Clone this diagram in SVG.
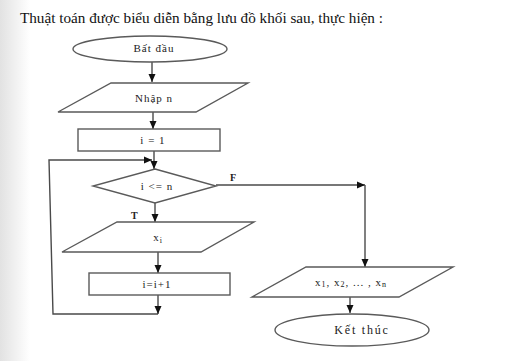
<svg xmlns="http://www.w3.org/2000/svg" width="506" height="361" viewBox="0 0 506 361">
<defs>
<linearGradient id="bg" x1="0" y1="0" x2="1" y2="0">
<stop offset="0" stop-color="#e2e2e2"/>
<stop offset="1" stop-color="#ffffff"/>
</linearGradient>
<marker id="arr" markerUnits="userSpaceOnUse" markerWidth="8" markerHeight="8" viewBox="0 0 8 8" refX="8" refY="4" orient="auto">
<path d="M0,0.5 L8,4 L0,7.5 Z" fill="#111"/>
</marker>
</defs>
<style>
.shape{fill:#fff;stroke:#5a5a5a;stroke-width:1.4}
.line{fill:none;stroke:#4a4a4a;stroke-width:1.4}
.lbl{font-family:"Liberation Serif","Times New Roman",serif;font-size:11px;fill:#222;text-anchor:middle;letter-spacing:1px}
.title{font-family:"Liberation Serif","Times New Roman",serif;font-size:15.2px;fill:#111}
.yn{font-family:"Liberation Serif","Times New Roman",serif;font-size:10px;font-weight:bold;fill:#222}
</style>
<rect x="0" y="0" width="506" height="361" fill="#fff"/>
<rect x="0" y="0" width="30" height="361" fill="url(#bg)"/>
<text class="title" x="20" y="23">Thuật toán được biểu diễn bằng lưu đồ khối sau, thực hiện :</text>

<g id="connectors">
<line class="line" x1="152" y1="62" x2="152" y2="82" marker-end="url(#arr)"/>
<line class="line" x1="153" y1="112" x2="153" y2="129" marker-end="url(#arr)"/>
<line class="line" x1="154" y1="151" x2="154" y2="169" marker-end="url(#arr)"/>
<polyline class="line" points="158,314 53,314 49,160 152,160" marker-end="url(#arr)"/>
<line class="line" x1="155" y1="203" x2="155" y2="222" marker-end="url(#arr)"/>
<line class="line" x1="158" y1="252" x2="158" y2="273" marker-end="url(#arr)"/>
<line class="line" x1="158" y1="295" x2="158" y2="314" marker-end="url(#arr)"/>
<line class="line" x1="216" y1="185" x2="365" y2="185" marker-end="url(#arr)"/>
<line class="line" x1="365" y1="185" x2="365" y2="267" marker-end="url(#arr)"/>
<line class="line" x1="350" y1="297" x2="350" y2="313" marker-end="url(#arr)"/>
<text class="yn" x="230" y="181">F</text>
<text class="yn" x="131" y="219">T</text>
</g>

<g id="start">
<ellipse class="shape" cx="150" cy="49" rx="77" ry="13"/>
<text class="lbl" x="154" y="52">Bất đầu</text>
</g>
<g id="input">
<polygon class="shape" points="111,83 248,83 196,112 58,112"/>
<text class="lbl" x="154" y="102">Nhập n</text>
</g>
<g id="init">
<rect class="shape" x="78" y="129" width="142" height="22"/>
<text class="lbl" x="153" y="144">i = 1</text>
</g>
<g id="cond">
<polygon class="shape" points="155,169 216,186 155,203 93,186"/>
<text class="lbl" x="157" y="190">i &lt;= n</text>
</g>
<g id="outxi">
<polygon class="shape" points="117,222 254,222 201,252 62,252"/>
<text class="lbl" x="158" y="241">x<tspan font-size="8" dy="2">i</tspan></text>
</g>
<g id="inc">
<rect class="shape" x="89" y="273" width="141" height="22"/>
<text class="lbl" x="157" y="288">i=i+1</text>
</g>
<g id="outall">
<polygon class="shape" points="306,267 453,267 399,297 252,297"/>
<text class="lbl" x="351" y="286">x<tspan font-size="8" dy="1">1</tspan><tspan dy="-1">, x</tspan><tspan font-size="8" dy="1">2</tspan><tspan dy="-1">, ... , x</tspan><tspan font-size="8" dy="1">n</tspan></text>
</g>
<g id="end">
<ellipse class="shape" cx="352" cy="330" rx="77" ry="16"/>
<text class="lbl" x="362" y="334" style="font-size:12px;letter-spacing:1.8px">Kết thúc</text>
</g>
</svg>
